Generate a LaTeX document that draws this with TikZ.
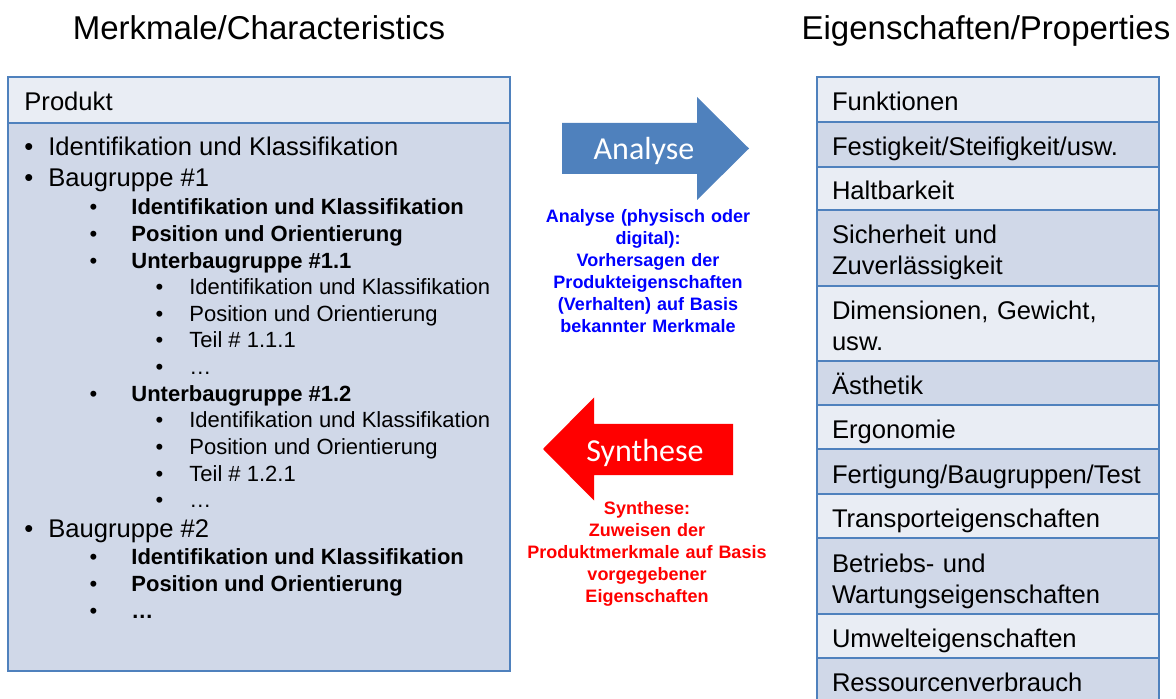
\documentclass[tikz,border=0pt]{standalone}
\usepackage{fontspec}
\setmainfont{Liberation Sans}
\newfontfamily\arrowfont{Carlito}
\usetikzlibrary{positioning}
\definecolor{gridblue}{HTML}{4F81BD}
\definecolor{hdrfill}{HTML}{E9EDF4}
\definecolor{bodyfill}{HTML}{D0D8E8}
\definecolor{synred}{HTML}{FF0000}
\definecolor{noteblue}{HTML}{0000FF}
\newcommand\rowstrut{\rule{0pt}{14.5pt}}
\newcommand\rowdepth{\rule[-3pt]{0pt}{3pt}}
\tikzset{
  panel/.style={draw=gridblue, line width=0.9pt, outer sep=0pt, inner sep=0pt, minimum width=251pt},
  proprow/.style={draw=gridblue, line width=0.9pt, outer sep=0pt, inner xsep=7.5pt, inner ysep=0pt, text width=156pt, align=left, font=\fontsize{12.8}{15.5}\selectfont, execute at begin node=\rowstrut, execute at end node=\rowdepth},
  proplight/.style={proprow, fill=hdrfill},
  propdark/.style={proprow, fill=bodyfill},
  headline/.style={font=\fontsize{16.5}{20}\selectfont, anchor=base},
  lvzero/.style={anchor=base west, inner sep=0pt, font=\fontsize{12.8}{15}\selectfont},
  lvone/.style={lvzero, execute at begin node={\llap{\textbullet\hspace{7.5pt}}}},
  lvtwo/.style={anchor=base west, inner sep=0pt, font=\fontsize{11}{13}\selectfont\bfseries, execute at begin node={\llap{\mdseries\textbullet\hspace{17pt}}}},
  lvthree/.style={anchor=base west, inner sep=0pt, font=\fontsize{11}{13}\selectfont, execute at begin node={\llap{\textbullet\hspace{13pt}}}},
  arrowtext/.style={anchor=base, text=white, font=\arrowfont\fontsize{16}{19}\selectfont},
  note/.style={anchor=base, text width=130pt, align=center, font=\fontsize{9}{11}\selectfont\bfseries}
}
\begin{document}
\begin{tikzpicture}[x=0.5pt, y=-0.5pt]
  \useasboundingbox (0,0) rectangle (1176,699);
  % headings
  \node[headline] (charhead) at (259,40) {Merkmale/Characteristics};
  \node[headline] (prophead) at (986,40) {Eigenschaften/Properties};

  % characteristics panel
  \node[panel, anchor=north west, fill=hdrfill, minimum height=23pt] (prodhead) at (8,77) {};
  \node[panel, fill=bodyfill, minimum height=274pt, below=0pt of prodhead] (prodbody) {};
  \node[lvzero] (produkt) at (24,111) {Produkt};
  \node[lvone] (idA) at (48,156) {Identifikation und Klassifikation};
  \node[lvone] (bgA) at (48,187) {Baugruppe \#1};
  \node[lvtwo] (bgAid) at (131,215) {Identifikation und Klassifikation};
  \node[lvtwo] (bgApos) at (131,241.6) {Position und Orientierung};
  \node[lvtwo] (ubgA) at (131,268.2) {Unterbaugruppe \#1.1};
  \node[lvthree] (ubgAid) at (189,294.8) {Identifikation und Klassifikation};
  \node[lvthree] (ubgApos) at (189,321.4) {Position und Orientierung};
  \node[lvthree] (ubgAteil) at (189,348) {Teil \# 1.1.1};
  \node[lvthree] (ubgAmore) at (189,374.6) {…};
  \node[lvtwo] (ubgB) at (131,401.2) {Unterbaugruppe \#1.2};
  \node[lvthree] (ubgBid) at (189,427.8) {Identifikation und Klassifikation};
  \node[lvthree] (ubgBpos) at (189,454.4) {Position und Orientierung};
  \node[lvthree] (ubgBteil) at (189,481) {Teil \# 1.2.1};
  \node[lvthree] (ubgBmore) at (189,507.6) {…};
  \node[lvone] (bgB) at (48,537) {Baugruppe \#2};
  \node[lvtwo] (bgBid) at (131,564) {Identifikation und Klassifikation};
  \node[lvtwo] (bgBpos) at (131,591) {Position und Orientierung};
  \node[lvtwo] (bgBmore) at (131,618) {…};

  % analysis / synthesis arrows
  \fill[gridblue] (562,123) -- (697,123) -- (697,97) -- (749,148.5) -- (697,200) -- (697,174) -- (562,174) -- cycle;
  \node[arrowtext] (analyse) at (644,160) {Analyse};
  \node[note, text=noteblue] (analysenote) at (648,223) {Analyse (physisch oder\\digital):\\Vorhersagen der\\Produkteigenschaften\\(Verhalten) auf Basis\\bekannter Merkmale};
  \fill[synred] (733,424) -- (594,424) -- (594,397.5) -- (543,449) -- (594,500.5) -- (594,475) -- (733,475) -- cycle;
  \node[arrowtext] (synthese) at (645,461) {Synthese};
  \node[note, text=synred] (synthesenote) at (647,514) {Synthese:\\Zuweisen der\\Produktmerkmale auf Basis\\vorgegebener\\Eigenschaften};

  % properties table
  \node[proplight, anchor=north west, minimum height=22.5pt] (funk) at (817,77) {Funktionen};
  \node[propdark, minimum height=22.5pt, below=0pt of funk] (fest) {Festigkeit/Steifigkeit/usw.};
  \node[proplight, minimum height=21.5pt, below=0pt of fest] (halt) {Haltbarkeit};
  \node[propdark, minimum height=38pt, below=0pt of halt] (sich) {Sicherheit und\\Zuverlässigkeit};
  \node[proplight, minimum height=37.5pt, below=0pt of sich] (dim) {Dimensionen, Gewicht,\\usw.};
  \node[propdark, minimum height=22pt, below=0pt of dim] (aest) {Ästhetik};
  \node[proplight, minimum height=22pt, below=0pt of aest] (ergo) {Ergonomie};
  \node[propdark, minimum height=22.5pt, below=0pt of ergo] (fert) {Fertigung/Baugruppen/Test};
  \node[proplight, minimum height=22pt, below=0pt of fert] (trans) {Transporteigenschaften};
  \node[propdark, minimum height=38pt, below=0pt of trans] (betr) {Betriebs- und\\Wartungseigenschaften};
  \node[proplight, minimum height=22pt, below=0pt of betr] (umw) {Umwelteigenschaften};
  \node[propdark, minimum height=22pt, below=0pt of umw] (ress) {Ressourcenverbrauch};
\end{tikzpicture}
\end{document}
